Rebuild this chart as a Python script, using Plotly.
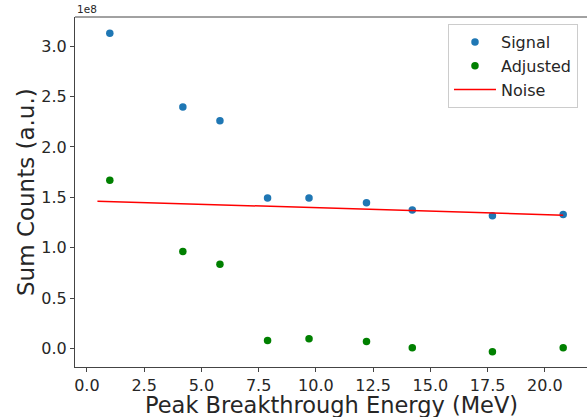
import numpy as np
import plotly.graph_objects as go

energy = [1.0, 4.19, 5.81, 7.89, 9.70, 12.21, 14.21, 17.71, 20.80]
signal = [3.127e8, 2.396e8, 2.26e8, 1.493e8, 1.493e8, 1.446e8, 1.374e8, 1.318e8, 1.331e8]
adjusted = [1.669e8, 0.964e8, 0.838e8, 0.081e8, 0.097e8, 0.071e8, 0.008e8, -0.032e8, 0.008e8]
noise_x = [0.46, 20.80]
noise_y = [1.463e8, 1.324e8]
x_ticks = [0.0, 2.5, 5.0, 7.5, 10.0, 12.5, 15.0, 17.5, 20.0]
y_ticks = [0.0, 0.5, 1.0, 1.5, 2.0, 2.5, 3.0]
scale = 1e8

FONT = "DejaVu Sans"
TXT = "#262626"
SPINE = "#444444"

fig = go.Figure()
fig.add_trace(go.Scatter(x=energy, y=np.array(signal) / scale, mode="markers", name="Signal",
                         marker=dict(color="#1f77b4", size=7.5)))
fig.add_trace(go.Scatter(x=energy, y=np.array(adjusted) / scale, mode="markers", name="Adjusted",
                         marker=dict(color="#008000", size=7.5)))
fig.add_trace(go.Scatter(x=noise_x, y=np.array(noise_y) / scale, mode="lines", name="Noise",
                         line=dict(color="#ff0000", width=1.5)))

fig.update_layout(
    width=587, height=417,
    margin=dict(l=75, r=0, t=17, b=50, autoexpand=False),
    paper_bgcolor="white", plot_bgcolor="white",
    font=dict(family=FONT, color=TXT, size=16),
    showlegend=True,
    legend=dict(x=0.7285, y=0.98, xanchor="left", yanchor="top",
                bgcolor="rgba(255,255,255,0.8)", bordercolor="#cccccc", borderwidth=1,
                font=dict(family=FONT, size=16, color=TXT), tracegroupgap=0, itemwidth=42),
)
fig.update_xaxes(range=[-0.52, 21.84], tickvals=x_ticks, ticktext=[f"{v:.1f}" for v in x_ticks],
                 automargin=False,
                 showgrid=False, zeroline=False, showline=True, linecolor=SPINE, linewidth=1,
                 mirror=False, ticks="outside", ticklen=4, tickcolor=SPINE,
                 tickfont=dict(size=16, family=FONT, color=TXT))
fig.update_yaxes(range=[-0.182, 3.289], tickvals=y_ticks, ticktext=[f"{v:.1f}" for v in y_ticks],
                 automargin=False,
                 showgrid=False, zeroline=False, showline=True, linecolor=SPINE, linewidth=1,
                 mirror=False, ticks="outside", ticklen=4, tickcolor=SPINE,
                 tickfont=dict(size=16, family=FONT, color=TXT))
# top spine
fig.add_shape(type="line", xref="paper", yref="paper", x0=0, x1=1, y0=1, y1=1,
              line=dict(color=SPINE, width=1))
fig.add_annotation(text="1e8", xref="paper", yref="paper", x=0, y=1, xanchor="left", yanchor="bottom",
                   showarrow=False, font=dict(size=10.5, family=FONT, color=TXT), yshift=0)
# axis titles
fig.add_annotation(text="Peak Breakthrough Energy (MeV)", xref="paper", yref="paper",
                   x=(331.5 - 75) / 512, xanchor="center", y=0, yanchor="middle", yshift=-38,
                   showarrow=False, font=dict(size=22.5, family=FONT, color=TXT))
fig.add_annotation(text="Sum Counts (a.u.)", xref="paper", yref="paper",
                   x=0, xanchor="center", xshift=-49, y=0.5, yanchor="middle", textangle=-90,
                   showarrow=False, font=dict(size=23, family=FONT, color=TXT))

fig.write_html("out.html", config={"displayModeBar": False},
               post_script="document.body.style.margin='0px';document.body.style.overflow='hidden';")
